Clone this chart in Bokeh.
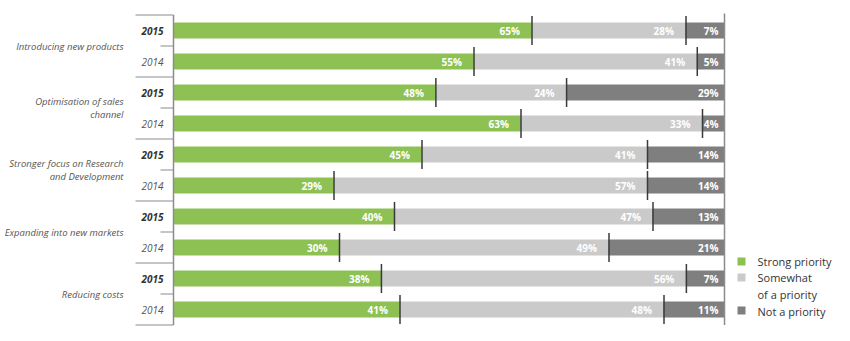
from bokeh.plotting import figure
from bokeh.models import Range1d, ColumnDataSource
from bokeh.core.properties import value
from bokeh.embed import file_html
from bokeh.resources import INLINE

# ---------------- data ----------------
categories = ["Introducing new products",
              "Optimisation of sales\nchannel",
              "Stronger focus on Research\nand Development",
              "Expanding into new markets",
              "Reducing costs"]
years = ["2015", "2014"]
strong = [65, 55, 48, 63, 45, 29, 40, 30, 38, 41]
somewhat = [28, 41, 24, 33, 41, 57, 47, 49, 56, 48]
not_priority = [7, 5, 29, 4, 14, 14, 13, 21, 7, 11]
series_names = ["Strong priority", "Somewhat\nof a priority", "Not a priority"]
colors = ["#8DC153", "#CACACA", "#7F7F7F"]

# ---------------- layout constants (pixels) ----------------
W, H = 850, 341
X0, X1 = 174, 724          # pixel of 0 % and 100 %
ROW0, ROWH = 30, 31        # centre of first row, row pitch
FONT = value("Open Sans")

def xd(px):
    return (px - X0) / (X1 - X0)

def yd(py):
    return (py - ROW0) / ROWH

p = figure(width=W, height=H, output_backend="svg", toolbar_location=None,
           x_range=Range1d(xd(0), xd(W)), y_range=Range1d(yd(H), yd(0)),
           x_axis_location=None, y_axis_location=None, min_border=0)
p.outline_line_color = None
p.grid.visible = False
p.background_fill_color = "white"
p.border_fill_color = "white"

n = len(strong)
rows = list(range(n))
tot = [a + b + c for a, b, c in zip(strong, somewhat, not_priority)]
e1 = [a / t for a, t in zip(strong, tot)]
e2 = [(a + b) / t for a, b, t in zip(strong, somewhat, tot)]
e3 = [1.0] * n
ext = 14.5 / ROWH

src = ColumnDataSource(dict(y=rows, z=[0.0] * n, e1=e1, e2=e2, e3=e3,
                            ya=[r - ext for r in rows], yb=[r + ext for r in rows],
                            s=[f"{v}%" for v in strong],
                            m=[f"{v}%" for v in somewhat],
                            np_=[f"{v}%" for v in not_priority]))

bh = 15 / ROWH
p.hbar(y="y", left="z", right="e1", height=bh, color=colors[0], source=src)
p.hbar(y="y", left="e1", right="e2", height=bh, color=colors[1], source=src)
p.hbar(y="y", left="e2", right="e3", height=bh, color=colors[2], source=src)

# value labels
lab = dict(text_font=FONT, text_font_size="10px", text_font_style="bold",
           text_color="white", text_align="right", text_baseline="middle", source=src)
p.text(x="e1", y="y", text="s", x_offset=-12, **lab)
p.text(x="e2", y="y", text="m", x_offset=-12, **lab)
p.text(x="e3", y="y", text="np_", x_offset=-6, **lab)

# divider marks
p.segment(x0="e1", x1="e1", y0="ya", y1="yb", line_color="#3a3a3a", line_width=1.5, source=src)
p.segment(x0="e2", x1="e2", y0="ya", y1="yb", line_color="#3a3a3a", line_width=1.5, source=src)

# left axis and right edge lines
top, bot = -0.5, n - 0.5
p.segment(x0=[xd(173)], x1=[xd(173)], y0=[top], y1=[bot], line_color="#8c8c8c", line_width=1.5)
p.segment(x0=[1.0], x1=[1.0], y0=[top - 0.05], y1=[bot], line_color="#8c8c8c", line_width=1.5)

ng = len(categories)
big = [g * 2 - 0.5 for g in range(ng + 1)]
small = [g * 2 + 0.5 for g in range(ng)]
p.segment(x0=[xd(135)] * len(big), x1=[xd(173)] * len(big), y0=big, y1=big,
          line_color="#8c8c8c", line_width=1.2)
p.segment(x0=[xd(160)] * len(small), x1=[xd(173)] * len(small), y0=small, y1=small,
          line_color="#8c8c8c", line_width=1.2)

# year labels
y15 = [g * 2 for g in range(ng)]
y14 = [g * 2 + 1 for g in range(ng)]
p.text(x=[xd(163)] * ng, y=y15, text=[years[0]] * ng, text_font=FONT, text_font_size="10px",
       text_font_style="bold italic", text_color="#333333", text_align="right",
       text_baseline="middle")
p.text(x=[xd(163)] * ng, y=y14, text=[years[1]] * ng, text_font=FONT, text_font_size="10px",
       text_font_style="italic", text_color="#555555", text_align="right",
       text_baseline="middle")

# category labels
p.text(x=[xd(123)] * ng, y=small, text=categories, text_font=FONT, text_font_size="9.5px",
       text_font_style="italic", text_color="#555555", text_align="right",
       text_baseline="middle", text_line_height=0.95)

# legend
leg_y = [yd(261), yd(277), yd(310)]
p.rect(x=[xd(741)] * 3, y=leg_y, width=8, height=8, width_units="screen",
       height_units="screen", fill_color=colors, line_color=None)
leg_lines = ["Strong priority", "Somewhat", "of a priority", "Not a priority"]
p.text(x=[xd(757)] * 4, y=[yd(261), yd(277), yd(294), yd(311)], text=leg_lines,
       text_font=FONT, text_font_size="11px", text_color="#333333",
       text_align="left", text_baseline="middle")

open("out.html", "w").write(file_html(p, INLINE))
